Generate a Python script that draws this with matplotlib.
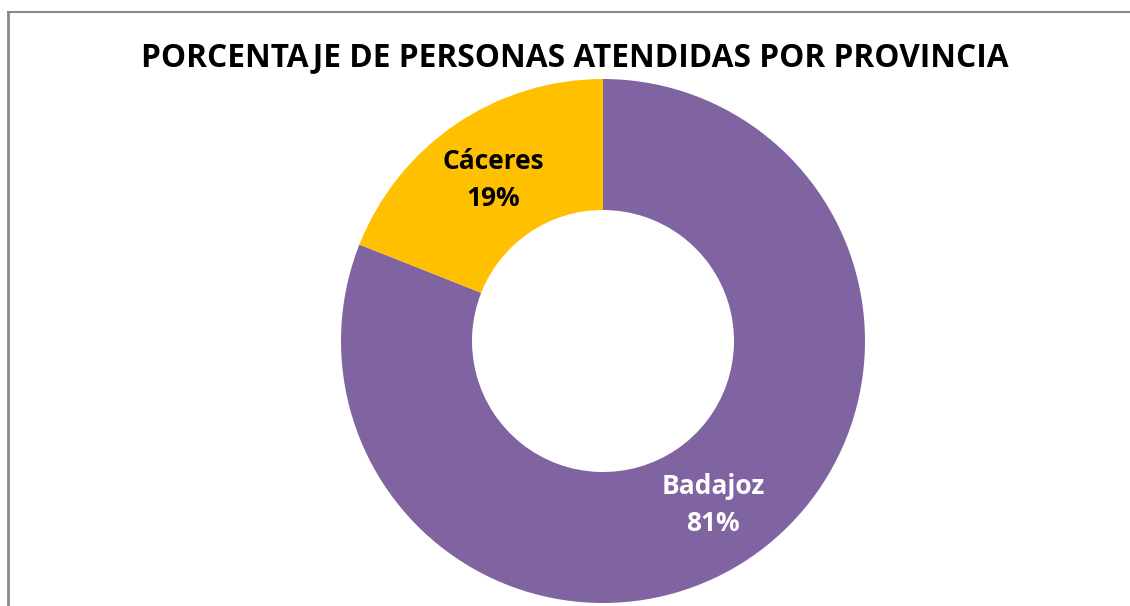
"""Donut chart: porcentaje de personas atendidas por provincia."""

import matplotlib

matplotlib.use("Agg")
import matplotlib.pyplot as plt
from matplotlib.lines import Line2D

provinces = ["Badajoz", "Cáceres"]
shares = [81, 19]
colors = ["#8064A2", "#FFC000"]
label_colors = ["white", "black"]
title = "PORCENTAJE DE PERSONAS ATENDIDAS POR PROVINCIA"

W, H = 1130, 606
fig = plt.figure(figsize=(W / 100, H / 100), dpi=100)
ax = fig.add_axes([0, 0, 1, 1])

cx, cy, r = 603, H - 341, 262
wedges, _ = ax.pie(
    shares, colors=colors, startangle=90, counterclock=False,
    center=(cx, cy), radius=r, frame=True,
    wedgeprops=dict(width=r * 0.5, linewidth=0),
)
ax.set_xlim(0, W)
ax.set_ylim(0, H)
ax.set_axis_off()

# label positions (pixel coords of label centre)
label_pos = [(713, 505), (493, 180)]
for name, val, (lx, ly), col in zip(provinces, shares, label_pos, label_colors):
    ax.text(lx, H - ly, f"{name}\n{val}%", ha="center", va="center",
            fontsize=19, fontweight="bold", color=col, family="Open Sans",
            linespacing=1.45)

fig.text(575 / W, 1 - 58 / H, title, ha="center", va="center",
         fontsize=22.8, fontweight="bold", family="Open Sans")

# chart-area border (top and left visible)
fig.add_artist(Line2D([8 / W, 8 / W], [0, 1 - 12 / H], transform=fig.transFigure,
                      color="#888888", lw=2))
fig.add_artist(Line2D([8 / W, 1], [1 - 12 / H, 1 - 12 / H], transform=fig.transFigure,
                      color="#888888", lw=1.5))

fig.savefig("out.png", dpi=100)
